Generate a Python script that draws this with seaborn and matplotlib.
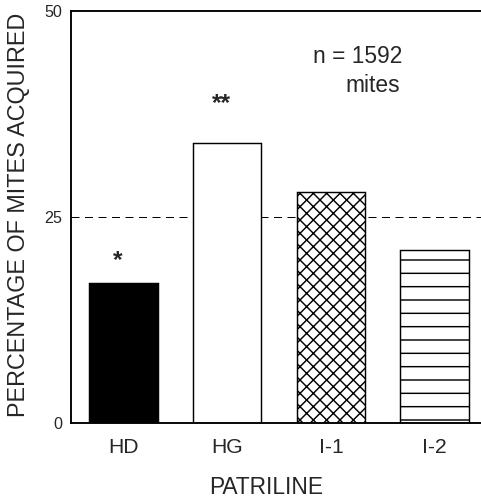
import matplotlib
matplotlib.use("Agg")
import matplotlib.pyplot as plt
import seaborn as sns

# ---- data ----
patrilines = ["HD", "HG", "I-1", "I-2"]
percent_acquired = [17.0, 34.0, 28.0, 21.0]
hatches = ["", "", "xx", "-"]
face_colors = ["black", "white", "white", "white"]
significance = ["*", "**", "", ""]
expected_pct = 25
y_ticks = [0, 25, 50]
n_text = "n = 1592"
n_unit = "mites"

sns.set_style("white")
plt.rcParams["font.family"] = ["Liberation Sans", "DejaVu Sans"]
plt.rcParams["hatch.linewidth"] = 1.3
plt.rcParams["hatch.color"] = "black"

DPI = 80
fig = plt.figure(figsize=(481 / DPI, 499 / DPI), dpi=DPI)
ax = fig.add_axes([71 / 481, 76 / 499, 410 / 481, 412 / 499])

sns.barplot(x=patrilines, y=percent_acquired, width=0.66, color="white",
            edgecolor="black", linewidth=1.3, saturation=1, ax=ax)

for patch, fc, h in zip(ax.patches, face_colors, hatches):
    patch.set_facecolor(fc)
    patch.set_hatch(h)
    patch.set_edgecolor("black")

ax.axhline(expected_pct, color="black", lw=0.9, ls=(0, (8, 5.5)), zorder=0.5)

offsets = [1.9, 4.0, 0, 0]
for i, (v, s, off) in enumerate(zip(percent_acquired, significance, offsets)):
    if s:
        ax.text(i - 0.055, v + off, s, ha="center",
                va="baseline", fontsize=22, fontweight="bold")

ax.text(1.827, 43.7, n_text, ha="left", va="baseline", fontsize=20.5)
ax.text(2.14, 40.2, n_unit, ha="left", va="baseline", fontsize=20.5)

ax.set_xlim(-0.506, 3.447)
ax.set_ylim(0, 50)
ax.set_yticks(y_ticks)
ax.set_yticklabels([str(t) for t in y_ticks])
ax.tick_params(axis="y", length=0, pad=8, labelsize=14.5)
ax.tick_params(axis="x", length=0, pad=13.5, labelsize=19)

ax.set_xlabel("PATRILINE", fontsize=20.5)
ax.xaxis.set_label_coords(0.477, -0.1286)
ax.set_ylabel("PERCENTAGE OF MITES ACQUIRED", fontsize=21)
ax.yaxis.set_label_coords(-0.10, 0.505)

for side in ["left", "bottom", "top"]:
    ax.spines[side].set_visible(True)
    ax.spines[side].set_color("black")
    ax.spines[side].set_linewidth(1.7)
ax.spines["right"].set_visible(False)

fig.savefig("out.png", dpi=DPI)
